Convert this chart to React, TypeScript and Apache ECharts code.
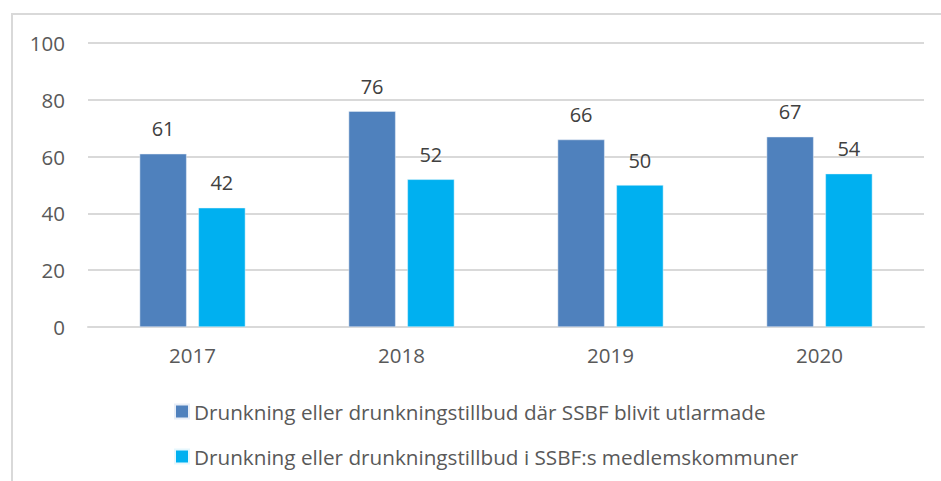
import React, { useEffect, useRef } from "react";
import * as echarts from "echarts";

const categories = ["2017", "2018", "2019", "2020"];
const seriesNames = [
  "Drunkning eller drunkningstillbud där SSBF blivit utlarmade",
  "Drunkning eller drunkningstillbud i SSBF:s medlemskommuner",
];
const alarmed = [61, 76, 66, 67];
const members = [42, 52, 50, 54];
const colors = ["#4f81bd", "#00b0f0"];

export default function App() {
  const ref = useRef<HTMLDivElement>(null);
  useEffect(() => {
    if (!ref.current) return;
    const chart = echarts.init(ref.current, null, { renderer: "svg" });
    const font = "'Open Sans', Lato, sans-serif";
    chart.setOption({
      animation: false,
      textStyle: { fontFamily: font },
      graphic: [
        {
          type: "rect",
          shape: { x: 12, y: 14, width: 940, height: 480 },
          style: { fill: "none", stroke: "#d9d9d9", lineWidth: 2 },
          silent: true,
        },
      ],
      grid: { left: 88, right: 17, top: 43, bottom: 154 },
      legend: {
        orient: "vertical",
        left: 169,
        top: 396,
        itemWidth: 14,
        itemHeight: 14,
        itemGap: 24,
        icon: "rect",
        textStyle: { fontSize: 20.7, color: "#595959", fontFamily: font },
        data: seriesNames,
      },
      xAxis: {
        type: "category",
        data: categories,
        axisLine: { lineStyle: { color: "#d9d9d9", width: 2 } },
        axisTick: { show: false },
        axisLabel: { fontSize: 20.5, color: "#595959", margin: 17, fontFamily: font },
      },
      yAxis: {
        type: "value",
        min: 0,
        max: 100,
        interval: 20,
        axisLine: { show: false },
        axisTick: { show: false },
        splitLine: { lineStyle: { color: "#d9d9d9", width: 2 } },
        axisLabel: { fontSize: 20.5, color: "#595959", margin: 23, fontFamily: font },
      },
      series: [
        {
          name: seriesNames[0],
          type: "bar",
          data: alarmed,
          barWidth: 47,
          barGap: "25%",
          itemStyle: { color: colors[0], borderColor: "#e8eef7", borderWidth: 0.5 },
          label: {
            show: true,
            position: "top",
            distance: 15,
            fontSize: 20,
            color: "#404040",
            fontFamily: font,
          },
        },
        {
          name: seriesNames[1],
          type: "bar",
          data: members,
          barWidth: 47,
          itemStyle: { color: colors[1], borderColor: "#e6f7fd", borderWidth: 0.5 },
          label: {
            show: true,
            position: "top",
            distance: 15,
            fontSize: 20,
            color: "#404040",
            fontFamily: font,
          },
        },
      ],
    });
    return () => chart.dispose();
  }, []);
  return (
    <div
      ref={ref}
      style={{ position: "absolute", left: 0, top: 0, width: 941, height: 481, background: "#fff" }}
    />
  );
}
